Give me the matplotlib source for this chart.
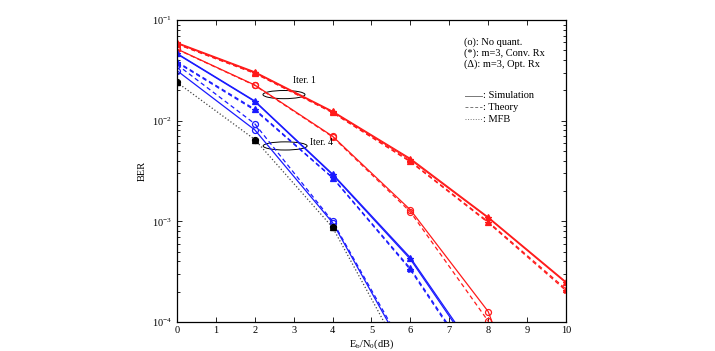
import matplotlib
matplotlib.use("Agg")
import matplotlib.pyplot as plt
from matplotlib.patches import Ellipse

plt.rcParams['font.family'] = ['Liberation Serif', 'DejaVu Serif']
plt.rcParams['mathtext.fontset'] = 'custom'
plt.rcParams['mathtext.rm'] = 'Liberation Serif'
plt.rcParams['mathtext.it'] = 'Liberation Serif:italic'
plt.rcParams['mathtext.default'] = 'regular'

# ---------------- data ----------------
snr = [0, 2, 4, 6, 8, 10]

# Iteration 1 (red)
it1_noq_sim = [0.0515, 0.0226, 0.0070, 1.30e-3, 1.27e-4, 1.0e-6]
it1_noq_th = [0.0512, 0.0224, 0.0069, 1.24e-3, 1.02e-4, 5.0e-7]
it1_conv_sim = [0.0585, 0.0300, 0.0122, 4.10e-3, 1.08e-3, 2.45e-4]
it1_opt_sim = [0.0595, 0.0305, 0.0124, 4.20e-3, 1.10e-3, 2.50e-4]
it1_conv_th = [0.0575, 0.0295, 0.0120, 3.90e-3, 0.97e-3, 2.05e-4]
it1_opt_th = [0.0580, 0.0298, 0.0121, 3.95e-3, 0.99e-3, 2.12e-4]

# Iteration 4 (blue)
it4_noq_sim = [0.0314, 0.0081, 9.7e-4, 4.0e-5, 1.0e-6, 1.0e-8]
it4_noq_th = [0.0360, 0.0093, 1.0e-3, 4.3e-5, 1.0e-6, 1.0e-8]
it4_conv_sim = [0.0460, 0.0155, 0.0029, 4.2e-4, 3.1e-5, 1.0e-7]
it4_opt_sim = [0.0465, 0.0157, 0.00295, 4.35e-4, 3.3e-5, 1.0e-7]
it4_conv_th = [0.0378, 0.0127, 0.0027, 3.3e-4, 2.3e-5, 1.0e-7]
it4_opt_th = [0.0385, 0.0130, 0.00272, 3.4e-4, 2.4e-5, 1.0e-7]

# Matched filter bound (black)
mfb = [0.0240, 0.0065, 8.7e-4, 3.3e-5, 1.0e-6, 1.0e-8]
mfb_marker_snr = [0, 2, 4]
mfb_marker_ber = [0.0240, 0.0065, 8.7e-4]

xticks = list(range(0, 11))
legend_lines = ["(o): No quant.", "(*): m=3, Conv. Rx", "(\u0394): m=3, Opt. Rx"]
style_lines = [": Simulation", ": Theory", ": MFB"]

# ---------------- figure ----------------
fig = plt.figure(figsize=(7.15, 3.51), dpi=100)
ax = fig.add_axes([0.24755, 0.08262, 0.54406, 0.86040])
ax.set_yscale('log')
ax.set_xlim(0, 10)
ax.set_ylim(1e-4, 1e-1)

RED = '#ff1a1a'
BLUE = '#1a1aff'
DASH = (3.5, 2.5)
ms = 4.3
lw = 0.9

def curve(y, color, marker, ls='-'):
    kw = dict(color=color, lw=lw, marker=marker, markersize=ms,
              markeredgewidth=0.9)
    if marker == '^':
        kw['markerfacecolor'] = color
    else:
        kw['markerfacecolor'] = 'none'
    line, = ax.plot(snr, y, **kw)
    if ls == '--':
        line.set_dashes(DASH)
    return line

# red
curve(it1_opt_sim, RED, '^')
curve(it1_conv_sim, RED, '*')
curve(it1_opt_th, RED, '^', '--')
curve(it1_conv_th, RED, '*', '--')
curve(it1_noq_sim, RED, 'o')
curve(it1_noq_th, RED, 'o', '--')

# blue
curve(it4_opt_sim, BLUE, '^')
curve(it4_conv_sim, BLUE, '*')
curve(it4_opt_th, BLUE, '^', '--')
curve(it4_conv_th, BLUE, '*', '--')
curve(it4_noq_sim, BLUE, 'o')
curve(it4_noq_th, BLUE, 'o', '--')

# MFB
ax.plot(snr, mfb, color='#444444', lw=0.9, ls=':')
ax.plot(mfb_marker_snr, mfb_marker_ber, ls='none', marker='^', color='black',
        markersize=ms, markerfacecolor='black')
ax.plot(mfb_marker_snr, mfb_marker_ber, ls='none', marker='o', color='black',
        markersize=ms, markerfacecolor='none', markeredgewidth=0.9)
ax.plot(mfb_marker_snr, mfb_marker_ber, ls='none', marker='*', color='black',
        markersize=ms)

# ticks
ax.set_xticks(xticks)
ax.tick_params(which='both', direction='in', top=True, right=True,
               labelsize=7.5, width=0.6)
ax.tick_params(which='major', length=3.5)
ax.tick_params(which='minor', length=2)
ax.tick_params(axis='x', pad=3)
for s in ax.spines.values():
    s.set_linewidth(0.9)

ax.set_ylabel('BER', fontsize=7.5)
ax.yaxis.set_label_coords(-0.077, 0.5)
ax.set_xlabel('E$_b$/N$_0$(dB)', fontsize=7.5)
ax.xaxis.set_label_coords(0.5, -0.052)

# annotations
ax.add_patch(Ellipse((0.275, 0.753), 0.108, 0.027, transform=ax.transAxes,
                     fill=False, ec='black', lw=0.7))
ax.add_patch(Ellipse((0.278, 0.583), 0.113, 0.027, transform=ax.transAxes,
                     fill=False, ec='black', lw=0.7))
ax.text(0.298, 0.801, 'Iter. 1', transform=ax.transAxes, fontsize=7,
        va='center', ha='left')
ax.text(0.342, 0.593, 'Iter. 4', transform=ax.transAxes, fontsize=7,
        va='center', ha='left')

# text legend
for t, yy in zip(legend_lines, [0.926, 0.890, 0.854]):
    ax.text(0.738, yy, t, transform=ax.transAxes, fontsize=7.5,
            va='center', ha='left')
for t, yy, st in zip(style_lines, [0.749, 0.711, 0.672], ['-', '--', ':']):
    l, = ax.plot([0.740, 0.784], [yy, yy], transform=ax.transAxes,
                 color='#777777', lw=0.7, ls=st)
    if st == '--':
        l.set_dashes((3, 2))
    ax.text(0.787, yy, t, transform=ax.transAxes, fontsize=7.5,
            va='center', ha='left')

fig.savefig('out.png', dpi=100)
